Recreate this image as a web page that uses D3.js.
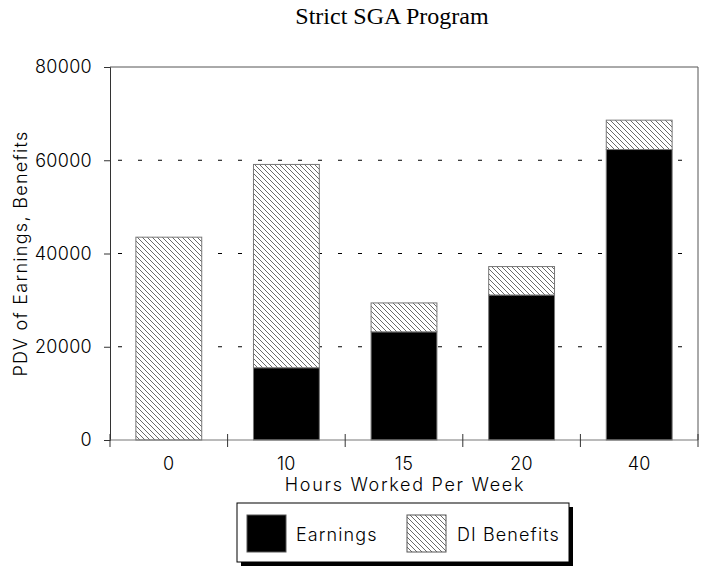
<!DOCTYPE html>
<html><head><meta charset="utf-8">
<script src="https://cdn.jsdelivr.net/npm/d3@7"></script>
<style>body{margin:0;background:#fff}svg{display:block}</style>
</head><body><svg id="c" width="702" height="568"></svg>
<script>
const categories = ["0","10","15","20","40"];
const earnings   = [0, 15500, 23200, 31100, 62300];
const diBenefits = [43500, 43600, 6200, 6100, 6300];
const yTicks     = [0, 20000, 40000, 60000, 80000];
const gridTicks  = [20000, 40000, 60000];
const title = "Strict SGA Program";
const xTitle = "Hours Worked Per Week";
const yTitle = "PDV of Earnings, Benefits";
const seriesNames = ["Earnings", "DI Benefits"];

const svg = d3.select("#c");
const m = {l:110, r:698, t:67, b:440};
const sans = "Inter, 'DejaVu Sans', sans-serif";
const fs = 18;
function styleText(sel, ls){ return sel.attr("font-family",sans).attr("font-size",fs).attr("font-weight",300).attr("letter-spacing",ls).attr("fill","#000"); }

const defs = svg.append("defs");
const pat = defs.append("pattern").attr("id","hatch").attr("patternUnits","userSpaceOnUse")
  .attr("width",5).attr("height",5);
pat.append("rect").attr("width",5).attr("height",5).attr("fill","#fff");
pat.append("path").attr("d","M-1,-1 L6,6 M-1,4 L1,6 M4,-1 L6,1").attr("stroke","#444").attr("stroke-width",0.8);

const x = d3.scaleBand().domain(categories).range([m.l, m.r]).paddingInner(0.44).paddingOuter(0.22);
const xb = d3.scaleBand().domain(categories).range([m.l, m.r]);
const y = d3.scaleLinear().domain([0,80000]).range([m.b, m.t]);

// grid
svg.append("g").selectAll("line").data(gridTicks).join("line")
  .attr("x1", m.l).attr("x2", m.r).attr("y1", d=>y(d)).attr("y2", d=>y(d))
  .attr("stroke","#000").attr("stroke-dasharray","4,16").attr("stroke-dashoffset",-8);

// bars
const stack = categories.map((c,i)=>({c, e:earnings[i], d:diBenefits[i]}));
const g = svg.append("g");
g.selectAll(".e").data(stack.filter(s=>s.e>0)).join("rect")
  .attr("x", d=>x(d.c)).attr("width", x.bandwidth())
  .attr("y", d=>y(d.e)).attr("height", d=>y(0)-y(d.e))
  .attr("fill","#000").attr("stroke","#777").attr("stroke-width",1);
g.selectAll(".d").data(stack).join("rect")
  .attr("x", d=>x(d.c)).attr("width", x.bandwidth())
  .attr("y", d=>y(d.e+d.d)).attr("height", d=>y(d.e)-y(d.e+d.d))
  .attr("fill","url(#hatch)").attr("stroke","#777").attr("stroke-width",1);

// frame
svg.append("path").attr("d",`M${m.l},${m.t}H${m.r}V${m.b}`).attr("fill","none").attr("stroke","#555");

// y axis
const ya = svg.append("g").attr("transform",`translate(${m.l},0)`)
  .call(d3.axisLeft(y).tickValues(yTicks).tickFormat(d3.format("d")).tickSize(6).tickPadding(12));
ya.select(".domain").attr("stroke","#333");
ya.selectAll(".tick line").attr("stroke","#333");
styleText(ya.selectAll("text"), 0.3);

// x axis
const xa = svg.append("g").attr("transform",`translate(0,${m.b})`);
xa.append("line").attr("x1",m.l).attr("x2",m.r).attr("stroke","#777");
const bounds = categories.map(c=>xb(c)).concat([m.r]);
xa.selectAll(".tk").data(bounds).join("line")
  .attr("x1",d=>d).attr("x2",d=>d).attr("y1",-6).attr("y2",7).attr("stroke","#333");
styleText(xa.selectAll("text").data(categories).join("text")
  .attr("x", d=>x(d)+x.bandwidth()/2).attr("y", 30).attr("text-anchor","middle").text(d=>d), 0.3);

// titles
svg.append("text").attr("x",392).attr("y",24).attr("text-anchor","middle")
  .attr("font-family","'Liberation Serif', serif").attr("font-size",24).text(title);
styleText(svg.append("text").attr("x",405).attr("y",491).attr("text-anchor","middle").text(xTitle), 1.7);
styleText(svg.append("text").attr("transform",`translate(27,${(m.t+m.b)/2}) rotate(-90)`).attr("text-anchor","middle").text(yTitle), 1.3);

// legend
const lg = svg.append("g");
lg.append("rect").attr("x",241).attr("y",507).attr("width",332).attr("height",59).attr("fill","#000");
lg.append("rect").attr("x",237).attr("y",503).attr("width",332).attr("height",59).attr("fill","#fff").attr("stroke","#000");
const items = [{n:seriesNames[0], f:"#000", x:247, tx:296},{n:seriesNames[1], f:"url(#hatch)", x:407, tx:457}];
items.forEach(it=>{
  lg.append("rect").attr("x",it.x).attr("y",515).attr("width",39).attr("height",37).attr("fill",it.f).attr("stroke","#555");
  styleText(lg.append("text").attr("x",it.tx).attr("y",541).text(it.n), 1.1);
});
</script></body></html>
